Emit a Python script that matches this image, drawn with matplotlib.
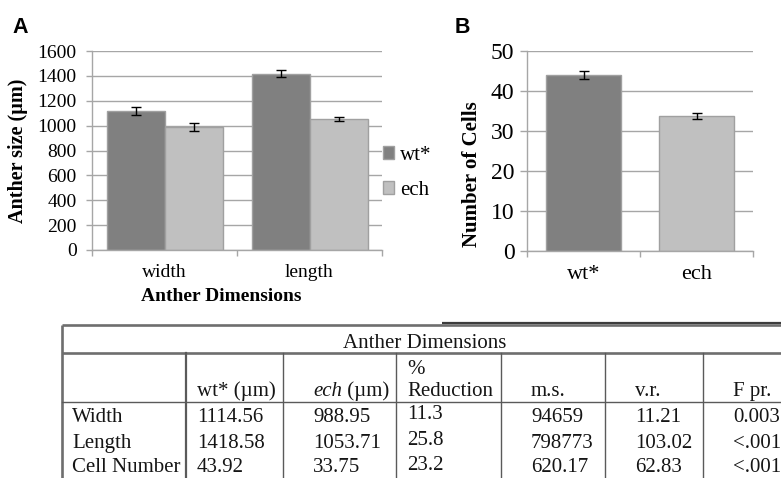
import matplotlib
matplotlib.use('Agg')
import matplotlib.pyplot as plt
from matplotlib.patches import Patch
import numpy as np

# ---------------- data ----------------
dims = ['width', 'length']
wt_size = [1114.56, 1418.58]
ech_size = [988.95, 1053.71]
wt_size_err = [32, 25]
ech_size_err = [34, 17]
size_ticks = [0, 200, 400, 600, 800, 1000, 1200, 1400, 1600]

genotypes = ['wt*', 'ech']
cell_counts = [43.92, 33.75]
cell_err = [1.0, 0.8]
cell_ticks = [0, 10, 20, 30, 40, 50]

table_title = 'Anther Dimensions'
row_labels = ['Width', 'Length', 'Cell Number']
wt_col = ['1114.56', '1418.58', '43.92']
ech_col = ['988.95', '1053.71', '33.75']
reduction_col = ['11.3', '25.8', '23.2']
ms_col = ['94659', '798773', '620.17']
vr_col = ['11.21', '103.02', '62.83']
fpr_col = ['0.003', '<.001', '<.001']

# ---------------- style ----------------
W, H = 781, 478
DARK = '#808080'
LIGHT = '#c0c0c0'
EDGE = '#a0a0a0'
GRID = '#a6a6a6'
SERIF = ['Liberation Serif', 'DejaVu Serif']
plt.rcParams['font.family'] = SERIF

fig = plt.figure(figsize=(W / 100, H / 100), dpi=100)


def style_axes(ax, ylab_size, tick_len, tick_pad):
    ax.set_axisbelow(True)
    ax.yaxis.grid(True, color=GRID, lw=1.0)
    for s in ['top', 'right']:
        ax.spines[s].set_visible(False)
    for s in ['left', 'bottom']:
        ax.spines[s].set_color(GRID)
        ax.spines[s].set_linewidth(1.0)
    ax.tick_params(axis='y', which='major', length=tick_len, width=1.0, color=GRID,
                   labelsize=ylab_size, pad=tick_pad, direction='out')
    ax.tick_params(axis='x', which='major', length=0)
    ax.tick_params(axis='x', which='minor', length=4, width=1.0, color=GRID, direction='out')
    ax.set_xlim(-0.5, 1.5)
    ax.set_xticks([-0.5, 0.5, 1.5], minor=True)


# ---------------- panel A ----------------
axA = fig.add_axes([92 / W, 1 - 250 / H, 290 / W, 199 / H])
x = np.arange(len(dims))
ekw = dict(ecolor='black', elinewidth=1.0, capthick=1.0)
axA.bar(x - 0.2, wt_size, 0.4, color=DARK, edgecolor=EDGE, lw=1.0,
        yerr=wt_size_err, capsize=3.5, error_kw=ekw, label='wt*')
axA.bar(x + 0.2, ech_size, 0.4, color=LIGHT, edgecolor=EDGE, lw=1.0,
        yerr=ech_size_err, capsize=3.5, error_kw=ekw, label='ech')
axA.set_ylim(0, 1600)
axA.set_yticks(size_ticks)
axA.set_xticks(x)
axA.set_xticklabels(dims, fontsize=14)
style_axes(axA, 14, 4, 7)
axA.tick_params(axis='x', which='major', pad=10)
axA.set_ylabel('Anther size (µm)', fontsize=14.5, fontweight='bold')
axA.yaxis.set_label_coords(-0.22, 0.5)
axA.set_xlabel('Anther Dimensions', fontsize=14, fontweight='bold')
axA.xaxis.set_label_coords(0.445, -0.19)

handles = [Patch(facecolor=DARK, edgecolor=EDGE), Patch(facecolor=LIGHT, edgecolor=EDGE)]
fig.legend(handles, genotypes, loc='upper left', bbox_to_anchor=(383 / W, 1 - 146 / H),
           frameon=False, fontsize=15, handlelength=0.55, handleheight=0.55,
           handletextpad=0.25, labelspacing=0.75, borderpad=0, borderaxespad=0)

# ---------------- panel B ----------------
axB = fig.add_axes([527 / W, 1 - 251 / H, 226 / W, 200 / H])
xb = np.arange(len(genotypes))
axB.bar(xb, cell_counts, 0.665, color=[DARK, LIGHT], edgecolor=EDGE, lw=1.0,
        yerr=cell_err, capsize=3.5, error_kw=ekw)
axB.set_ylim(0, 50)
axB.set_yticks(cell_ticks)
axB.set_xticks(xb)
axB.set_xticklabels(genotypes, fontsize=16)
style_axes(axB, 17, 5, 4)
axB.tick_params(axis='x', which='major', pad=10)
axB.set_ylabel('Number of Cells', fontsize=15, fontweight='bold')
axB.yaxis.set_label_coords(-0.2, 0.385)

# panel letters
fig.text(12 / W, 1 - 33 / H, 'A', fontsize=15.5, fontweight='bold',
         family=['Liberation Sans', 'DejaVu Sans'], va='baseline')
fig.text(455 / W, 1 - 33 / H, 'B', fontsize=15.5, fontweight='bold',
         family=['Liberation Sans', 'DejaVu Sans'], va='baseline')

# ---------------- table ----------------
tax = fig.add_axes([0, 0, 1, 1], zorder=-5)
tax.set_xlim(0, W)
tax.set_ylim(H, 0)
tax.axis('off')

LC = '#5a5a5a'
left, right = 62, W + 5
top, head_bot, hdr_bot = 325, 353, 402
col_x = [186, 283, 396, 501, 605, 703]

tax.plot([442, right], [322.5, 322.5], color='#3c3c3c', lw=1.6, solid_capstyle='butt')
for y in (top, head_bot):
    tax.plot([left, right], [y, y], color='#6e6e6e', lw=1.9, solid_capstyle='butt')
tax.plot([left, left], [top, H + 5], color='#6e6e6e', lw=1.9, solid_capstyle='butt')
tax.plot([left, right], [hdr_bot, hdr_bot], color=LC, lw=1.0)
for i, cx in enumerate(col_x):
    tax.plot([cx, cx], [head_bot, H + 5], color=LC, lw=1.6 if i == 0 else 1.0)

TFS = 15
TC = '#151515'
tax.text(425, 348, table_title, fontsize=TFS, color=TC, ha='center', va='baseline')

text_x = [72, 197, 313, 407, 531, 635, 733]
hdr_base = 396
tax.text(text_x[1], hdr_base, 'wt* (µm)', fontsize=TFS, color=TC, va='baseline')
t_ech = tax.text(text_x[2], hdr_base, 'ech', fontsize=TFS, color=TC, va='baseline', style='italic')
tax.text(text_x[3], 374, '%', fontsize=TFS, color=TC, va='baseline')
tax.text(text_x[3], hdr_base, 'Reduction', fontsize=TFS, color=TC, va='baseline')
tax.text(text_x[4], hdr_base, 'm.s.', fontsize=TFS, color=TC, va='baseline')
tax.text(text_x[5], hdr_base, 'v.r.', fontsize=TFS, color=TC, va='baseline')
tax.text(text_x[6], hdr_base, 'F pr.', fontsize=TFS, color=TC, va='baseline')

fig.canvas.draw()
bb = t_ech.get_window_extent()
inv = tax.transData.inverted()
x_end = inv.transform((bb.x1, bb.y0))[0]
tax.text(x_end, hdr_base, ' (µm)', fontsize=TFS, color=TC, va='baseline')

cols = [row_labels, wt_col, ech_col, reduction_col, ms_col, vr_col, fpr_col]
row_base = [422, 448]
for ci, col in enumerate(cols):
    shift = 3 if ci == 3 else 0
    for ri, val in enumerate(col):
        if ri < len(row_base):
            tax.text(text_x[ci], row_base[ri] - shift, val, fontsize=TFS, color=TC, va='baseline')
        else:
            tax.text(text_x[ci], 477.5 - shift, val, fontsize=TFS, color=TC, va='bottom')

fig.savefig('out.png', dpi=100)
